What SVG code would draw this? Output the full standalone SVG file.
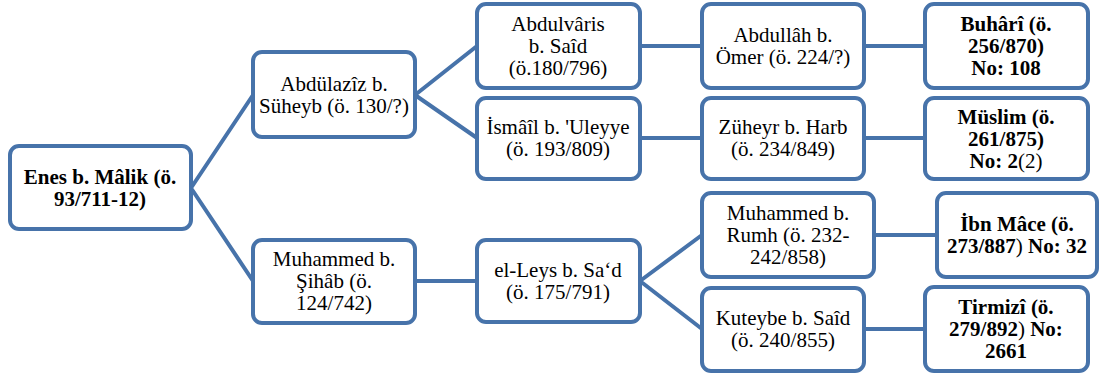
<svg xmlns="http://www.w3.org/2000/svg" width="1101" height="379" viewBox="0 0 1101 379">
<style>
.box{fill:#fff;stroke:#4773AA;stroke-width:4}
.ln{fill:none;stroke:#4773AA;stroke-width:4}
.t text{font-family:'Times New Roman','Liberation Serif',Tinos,'DejaVu Serif',serif;font-size:21px;fill:#000;text-anchor:middle}
.b{font-weight:bold}
.n{font-weight:normal}
</style>
<rect width="1101" height="379" fill="#fff"/>
<g id="connectors">
<path class="ln" d="M191,188 L253,95 M191,188 L253,281"/>
<path class="ln" d="M415,95 L477,46 M415,95 L477,138"/>
<path class="ln" d="M415,281 L477,281"/>
<path class="ln" d="M640,46 L702,46 M640,138 L702,138"/>
<path class="ln" d="M640,281 L702,235 M640,281 L702,329"/>
<path class="ln" d="M864,46 L925,46 M864,138 L925,138"/>
<path class="ln" d="M874,235 L937,235 M864,329 L925,329"/>
</g>
<g class="t">
<g id="enes">
<rect class="box" x="10" y="146" width="181" height="83" rx="9"/>
<text class="b" x="100" y="184">Enes b. Mâlik (ö.</text>
<text class="b" x="100" y="206">93/711-12)</text>
</g>
<g id="abdulaziz">
<rect class="box" x="253" y="52" width="162" height="85" rx="9"/>
<text x="334" y="91">Abdülazîz b.</text>
<text x="334" y="113">Süheyb (ö. 130/?)</text>
</g>
<g id="muhammed-sihab">
<rect class="box" x="253" y="240" width="162" height="83" rx="9"/>
<text x="334" y="266">Muhammed b.</text>
<text x="334" y="288">Şihâb (ö.</text>
<text x="334" y="310">124/742)</text>
</g>
<g id="abdulvaris">
<rect class="box" x="477" y="4" width="163" height="84" rx="9"/>
<text x="558" y="31">Abdulvâris</text>
<text x="558" y="53">b. Saîd</text>
<text x="558" y="75">(ö.180/796)</text>
</g>
<g id="ismail">
<rect class="box" x="477" y="98" width="163" height="81" rx="9"/>
<text x="558" y="134">İsmâîl b. 'Uleyye</text>
<text x="558" y="156">(ö. 193/809)</text>
</g>
<g id="leys">
<rect class="box" x="477" y="240" width="163" height="82" rx="9"/>
<text x="558" y="277">el-Leys b. Sa‘d</text>
<text x="558" y="299">(ö. 175/791)</text>
</g>
<g id="abdullah">
<rect class="box" x="702" y="4" width="162" height="84" rx="9"/>
<text x="783" y="42">Abdullâh b.</text>
<text x="783" y="64">Ömer (ö. 224/?)</text>
</g>
<g id="zuheyr">
<rect class="box" x="702" y="98" width="162" height="81" rx="9"/>
<text x="783" y="134">Züheyr b. Harb</text>
<text x="783" y="156">(ö. 234/849)</text>
</g>
<g id="muhammed-rumh">
<rect class="box" x="702" y="193" width="172" height="84" rx="9"/>
<text x="788" y="220">Muhammed b.</text>
<text x="788" y="242">Rumh (ö. 232-</text>
<text x="788" y="264">242/858)</text>
</g>
<g id="kuteybe">
<rect class="box" x="702" y="288" width="162" height="83" rx="9"/>
<text x="783" y="325">Kuteybe b. Saîd</text>
<text x="783" y="347">(ö. 240/855)</text>
</g>
<g id="buhari">
<rect class="box" x="925" y="4" width="163" height="84" rx="9"/>
<text class="b" x="1006" y="31">Buhârî (ö.</text>
<text class="b" x="1006" y="53">256/870)</text>
<text class="b" x="1006" y="75">No: 108</text>
</g>
<g id="muslim">
<rect class="box" x="925" y="98" width="163" height="81" rx="9"/>
<text class="b" x="1006" y="124">Müslim (ö.</text>
<text class="b" x="1006" y="146">261/875)</text>
<text class="b" x="1006" y="168">No: 2<tspan class="n">(2)</tspan></text>
</g>
<g id="ibn-mace">
<rect class="box" x="937" y="193" width="160" height="84" rx="9"/>
<text class="b" x="1017" y="231">İbn Mâce (ö.</text>
<text class="b" x="1017" y="253">273/887<tspan class="n">)</tspan> No: 32</text>
</g>
<g id="tirmizi">
<rect class="box" x="925" y="287" width="163" height="84" rx="9"/>
<text class="b" x="1006" y="314">Tirmizî (ö.</text>
<text class="b" x="1006" y="336">279/892<tspan class="n">)</tspan> No:</text>
<text class="b" x="1006" y="358">2661</text>
</g>
</g>
</svg>
